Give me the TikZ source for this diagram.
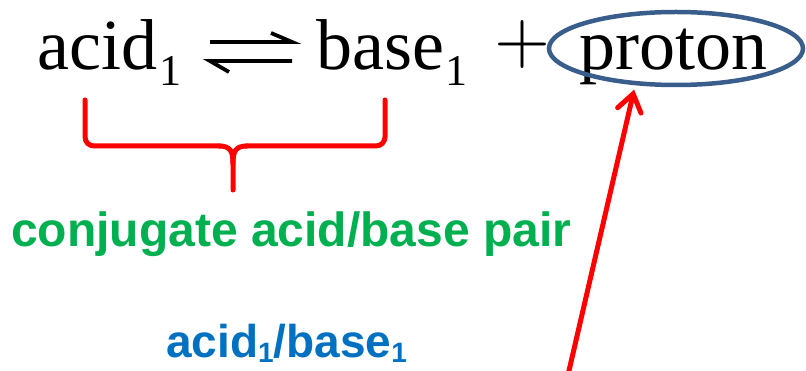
\documentclass[tikz,border=0pt]{standalone}
\usepackage{fontspec}
\setmainfont{Liberation Serif}
\newfontfamily\arialfont{Liberation Sans}
\usetikzlibrary{shapes.geometric,arrows.meta}
\definecolor{ringblue}{RGB}{58,94,140}
\definecolor{pairgreen}{RGB}{0,176,80}
\definecolor{labelblue}{RGB}{0,112,192}
\newcommand{\bigsub}{\raisebox{-16pt}{\fontsize{44}{44}\selectfont 1}}
\newcommand{\smallsub}{\raisebox{-5pt}{\fontsize{28}{28}\selectfont 1}}
\tikzset{
  eqtext/.style={anchor=base west,inner sep=0pt,font=\fontsize{72}{72}\selectfont},
  labeltext/.style={anchor=base west,inner sep=0pt,font=\arialfont\bfseries\fontsize{48}{48}\selectfont},
  pointer/.style={draw=red,line width=5pt,line cap=round,-{Straight Barb[length=17pt,width=24pt,line cap=round]}}
}
\begin{document}
\begin{tikzpicture}[x=1pt,y=-1pt]
\useasboundingbox (0,0) rectangle (806,371);
\node[eqtext] (acid) at (37,70) {acid\kern2pt\bigsub};
\node[eqtext] (base) at (316,70) {base\kern1pt\bigsub};
\node[eqtext,font=\fontsize{10}{10}\selectfont] (plus) at (494,63) {\scalebox{7.2}{$+$}};
\node[eqtext] (proton) at (579,70) {proton};

\draw[line width=3.8pt] (210,42) -- (292,42) -- (271,33);
\draw[line width=3.8pt] (292,61) -- (210,61) -- (229,72);

\node[ellipse,draw=ringblue,line width=4.5pt,minimum width=254pt,minimum height=73pt] (ring) at (676,48.5) {};

\draw[red,line width=5pt,line cap=round,rounded corners=9pt] (85,100) -- (85,146) -- (220,146);
\draw[red,line width=5pt,line cap=round,rounded corners=9pt] (385,100) -- (385,146) -- (246,146);
\draw[red,line width=5pt,line cap=round] (219,146) .. controls (231,146) and (233,152) .. (233,164) -- (233,190);
\draw[red,line width=5pt,line cap=round] (247,146) .. controls (235,146) and (233,152) .. (233,164);

\node[labeltext,text=pairgreen] (pair) at (11,247) {conjugate acid/base pair};
\node[labeltext,text=labelblue,font=\arialfont\bfseries\fontsize{46}{46}\selectfont] (couple) at (166,358) {acid\smallsub/base\smallsub};

\coordinate (foot) at (568,375);
\draw[pointer,shorten >=4.5pt] (foot) -- (ring.222);
\end{tikzpicture}
\end{document}
